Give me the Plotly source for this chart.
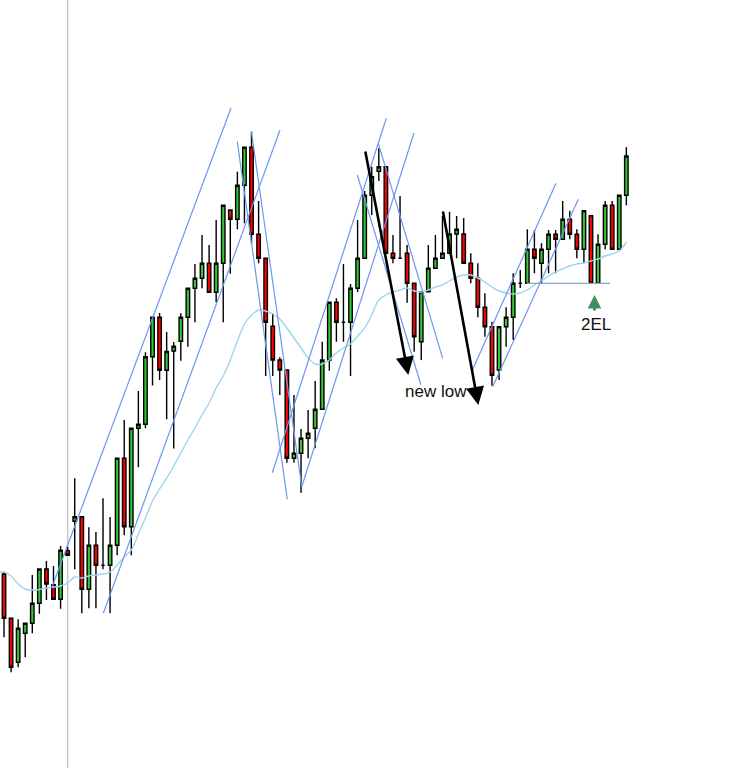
import plotly.graph_objects as go

# ---- OHLC data (price units), one bar per session ----
opens = [194, 149.7, 105.7, 134.7, 144.7, 164.7, 199, 183.3, 168.7, 217.3,
         246.7, 251.3, 178.7, 222.7, 202.7, 202.7, 222.7, 309.7, 241.3, 339.7,
         343.7, 411.3, 450.7, 397.7, 417, 426.7, 450.7, 479.7, 489.7, 504.7,
         475.7, 504.7, 558, 548.7, 582.7, 620.7, 533.7, 509.7, 441.7, 408,
         398, 309.7, 314.7, 329.7, 339.7, 358.7, 408, 465.7, 445.7, 445.7,
         479.7, 509.7, 572.7, 596.7, 601.3, 514.7, 509.7, 514.7, 484.7, 426.3,
         476.3, 499.7, 509.7, 514.7, 534, 534, 504.7, 489.7, 460.7, 441.3,
         398, 441.3, 450.7, 484.7, 484.7, 518.7, 504.7, 518.7, 533.7, 528.7,
         548.7, 533.7, 518.7, 552.3, 484.7, 523.7, 562.7, 518.7, 572.7]
highs = [196, 149.7, 148.7, 144.7, 193, 199, 207, 202, 222, 221.3,
         289.7, 251.3, 240.7, 236, 269.7, 251, 309.7, 348, 339.7, 377,
         415.7, 450.7, 455, 436, 426, 454.7, 479.7, 504, 533, 523,
         548, 562.7, 558, 596.3, 620.7, 636.3, 567, 509.7, 454.7, 410.7,
         398, 373, 339, 358, 387, 426.3, 465.7, 469.7, 504, 484,
         548, 577, 601.3, 619.7, 601.3, 533, 572, 523, 484.7, 476.3,
         523, 533, 552, 556.3, 552, 550, 514.7, 504.7, 474.7, 446.3,
         441.3, 460.7, 494.7, 498, 538.7, 538, 524.7, 538, 538, 567,
         557.3, 538.7, 557.3, 552.3, 533.7, 567, 567, 572.7, 620.7]
lows = [130.7, 95.7, 100.7, 110.7, 134.7, 154.3, 168, 168.7, 159.3, 212.7,
        198.7, 154.7, 159.7, 159.7, 198.7, 154.7, 212.7, 232.7, 212.7, 300.7,
        339.7, 382.5, 388, 348.7, 319.5, 407.3, 421.3, 445.7, 479.7, 475.7,
        465.7, 445.7, 494.3, 538.7, 544.7, 524, 504.7, 392, 392, 373,
        305.3, 305.3, 275.3, 309.7, 319.7, 358.7, 397.3, 426.3, 426.3, 392,
        476, 509.7, 553, 587, 514.7, 504.7, 509.7, 465.3, 416.3, 408,
        476.3, 499.7, 509.7, 514.7, 509.7, 504.7, 484.7, 450.7, 431.3, 382.3,
        388, 421.3, 428, 480, 484.7, 494.7, 484.7, 494.7, 494.7, 528.7,
        528.7, 509.7, 504.7, 484.7, 484.7, 518.7, 518.7, 518.7, 562.7]
closes = [149.7, 100.7, 139.7, 144.7, 164.7, 199, 184, 168.7, 217.7, 212.7,
          251.3, 178.7, 222.7, 202.7, 202.7, 222.7, 309.7, 241.3, 339.7, 343.7,
          411.3, 450.7, 397.7, 416.5, 421.7, 450.7, 479.7, 489.7, 504.7, 475.7,
          504.7, 562.7, 548.7, 582.7, 620.7, 533.7, 509.7, 445.7, 408, 398,
          309.7, 314.7, 329.7, 334.7, 358.7, 408, 465.7, 445.7, 445.7, 479.7,
          509.7, 572.7, 591.3, 601.3, 514.7, 509.7, 509.7, 484.7, 431.3, 476.3,
          499.7, 509.7, 514.7, 534, 538.7, 504.7, 489.7, 460.7, 441.3, 392.7,
          441.3, 450.7, 484.7, 484.7, 518.7, 509.7, 518.7, 533.7, 528.7, 548.7,
          533.7, 518.7, 557.3, 484.7, 523.7, 562.7, 518.7, 572.7, 612]

# moving average
ma = [196, 192, 184, 179, 178, 178.5, 180, 181, 182, 185,
      191, 190, 192, 193, 194, 196, 203, 211, 218, 234,
      250, 267, 279, 290, 302, 315, 328, 340, 353, 365,
      380, 392, 408, 427, 444, 453, 458, 457, 454, 449,
      440, 430, 420, 410, 404, 404, 408, 415, 420, 424,
      432, 440, 453, 468, 473, 476, 478, 480, 477, 476,
      478, 481, 483, 487, 491, 493, 493, 490, 486, 481,
      477, 475, 474, 475, 478, 483, 487, 492, 496, 499,
      502, 504, 505, 507, 509, 512, 514, 517, 526]

# ---- drawn trendlines (bar index, price) ----
trend_x0 = [6.74, 14.04, 32.99, 34.97, 37.94, 42.10, 49.96, 52.93, 66.13, 69.10]
trend_y0 = [180, 154.7, 626.3, 637, 295.3, 281.3, 593, 624.7, 396.3, 381.3]
trend_x1 = [32.10, 39.03, 40.06, 42.10, 54.06, 57.98, 58.96, 62.03, 78.05, 81.21]
trend_y1 = [660, 638, 268.7, 281.3, 649.7, 635.3, 383, 409.7, 584.7, 568.7]

# support level under the 2EL signal
level_x = [73.91, 85.69]
level_price = 484.7

# black arrows (tail -> head)
arrow_tail_x = [51.05, 62.03]
arrow_tail_y = [618, 558]
arrow_head_x = [57.17, 67.07]
arrow_head_y = [393, 363]

session_break = 9

labels = ["new low", "2EL"]
label_x = [61.06, 83.7]
label_y = [376.3, 444]
signal_x = 83.5
signal_y = [456, 473]

x = list(range(len(opens)))

fig = go.Figure()
fig.add_trace(go.Candlestick(
    x=x, open=opens, high=highs, low=lows, close=closes,
    increasing=dict(line=dict(color="black", width=1.4), fillcolor="#34c934"),
    decreasing=dict(line=dict(color="black", width=1.4), fillcolor="#ff0000"),
    whiskerwidth=0, hoverinfo="skip",
))
fig.add_trace(go.Scatter(
    x=[-0.6] + x, y=[ma[0]] + ma, mode="lines",
    line=dict(color="#9fd4ee", width=1.4, shape="spline"), hoverinfo="skip",
))

shapes = [dict(type="line", xref="x", yref="paper", x0=session_break, x1=session_break,
               y0=0, y1=1, line=dict(color="#c8c8c8", width=1.5), layer="below")]
for a, b, c, d in zip(trend_x0, trend_y0, trend_x1, trend_y1):
    shapes.append(dict(type="line", xref="x", yref="y", x0=a, y0=b, x1=c, y1=d,
                       line=dict(color="#6a98ee", width=1.2)))
shapes.append(dict(type="line", xref="x", yref="y", x0=level_x[0], x1=level_x[1],
                   y0=level_price, y1=level_price, line=dict(color="#8aa4cc", width=1.2)))

annotations = []
for tx, ty, hx, hy in zip(arrow_tail_x, arrow_tail_y, arrow_head_x, arrow_head_y):
    annotations.append(dict(x=hx, y=hy, ax=tx, ay=ty, xref="x", yref="y",
                            axref="x", ayref="y", text="", showarrow=True,
                            arrowhead=2, arrowsize=1.4, arrowwidth=2.6,
                            arrowcolor="black", standoff=0))
annotations.append(dict(x=signal_x, y=signal_y[1], ax=signal_x, ay=signal_y[0],
                        xref="x", yref="y", axref="x", ayref="y", text="",
                        showarrow=True, arrowhead=2, arrowsize=0.9, arrowwidth=3,
                        arrowcolor="#3f8f62", standoff=0))
for t, lx, ly in zip(labels, label_x, label_y):
    annotations.append(dict(x=lx, y=ly, xref="x", yref="y", text=t, showarrow=False,
                            font=dict(family="Arial, Liberation Sans, sans-serif",
                                      size=17, color="#111111")))

fig.update_layout(
    width=746, height=768, margin=dict(l=0, r=0, t=0, b=0),
    paper_bgcolor="white", plot_bgcolor="white", showlegend=False,
    xaxis=dict(visible=False, range=[-0.566, 104.92], rangeslider=dict(visible=False)),
    yaxis=dict(visible=False, range=[0, 768]),
    shapes=shapes, annotations=annotations,
)

fig.write_html("out.html", config={"displayModeBar": False},
               post_script="document.body.style.margin='0';document.body.style.padding='0';")
